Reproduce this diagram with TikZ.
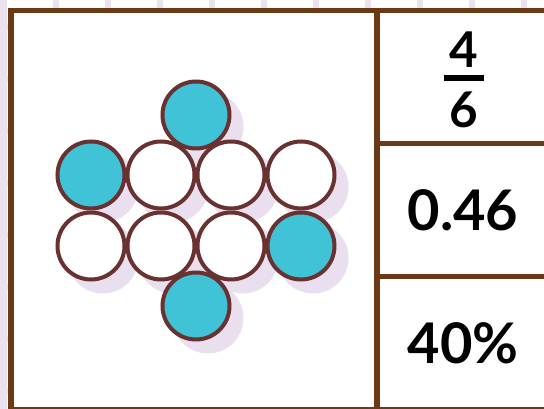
\documentclass[tikz,border=0pt]{standalone}
\usepackage{fontspec}
\setmainfont{Lato}
\definecolor{gridcol}{HTML}{EBE1EF}
\definecolor{shadecol}{HTML}{E9DFEE}
\definecolor{beadblue}{HTML}{40C3D7}
\definecolor{beadline}{HTML}{6A3131}
\definecolor{framecol}{HTML}{6B3A15}
\begin{document}
\begin{tikzpicture}[x=0.75pt, y=-0.75pt,
    frame/.style={draw=framecol, line width=4pt, line cap=rect},
    bead/.style={circle, draw=beadline, line width=3pt, inner sep=0pt, minimum size=50.25pt},
    bignum/.style={inner sep=0pt, font=\fontsize{42}{42}\selectfont\bfseries},
    fracnum/.style={inner sep=0pt, font=\fontsize{37}{37}\selectfont\bfseries}]

    % Rozměry
    \def\Wpic{544}
    \def\Hpic{409}
    \def\Xdiv{377}

    \useasboundingbox (0,0) rectangle (\Wpic,\Hpic);
    \clip (0,0) rectangle (\Wpic,\Hpic);

    % 1. Pozadí (mřížka)
    \fill[white] (0,0) rectangle (\Wpic,\Hpic);
    \foreach \gx in {3.5,55.5,...,523.5} {
        \draw[gridcol, line width=4.5pt] (\gx,0) -- (\gx,\Hpic);
    }
    \foreach \gy in {27,79,...,391} {
        \draw[gridcol, line width=4.5pt] (0,\gy) -- (\Wpic,\gy);
    }
    \fill[white] (11,10.5) rectangle (600,409.5);

    % 2. Stíny korálků
    \foreach \bx/\by in {196/115, 91/175, 161/175, 231/175, 301/175, 91/246, 161/246, 231/246, 301/246, 196/306} {
        \fill[shadecol] (\bx+12,\by+12) circle[radius=35.5];
    }

    % 3. Korálky
    \foreach \bx/\by/\bcol [count=\i] in {196/115/beadblue, 91/175/beadblue, 161/175/white, 231/175/white, 301/175/white, 91/246/white, 161/246/white, 231/246/white, 301/246/beadblue, 196/306/beadblue} {
        \node[bead, fill=\bcol] (bead\i) at (\bx,\by) {};
    }

    % 4. Rámeček tabulky
    \draw[frame] (11,409.5) |- (600,10.5);
    \draw[frame] (\Xdiv,10.5) -- (\Xdiv,409.5);
    \draw[frame] (\Xdiv,143.5) -- (600,143.5);
    \draw[frame] (\Xdiv,276.5) -- (600,276.5);
    \draw[frame] (11,409.5) -- (600,409.5);

    % 5. Hodnoty
    \node[fracnum] (numer) at (464,50) {4};
    \node[fracnum] (denom) at (464,110) {6};
    \fill (444,75.5) rectangle (484,81);
    \node[bignum] (decimal) at (463,210) {0.46};
    \node[bignum] (percent) at (463,343) {40\%};

\end{tikzpicture}
\end{document}
